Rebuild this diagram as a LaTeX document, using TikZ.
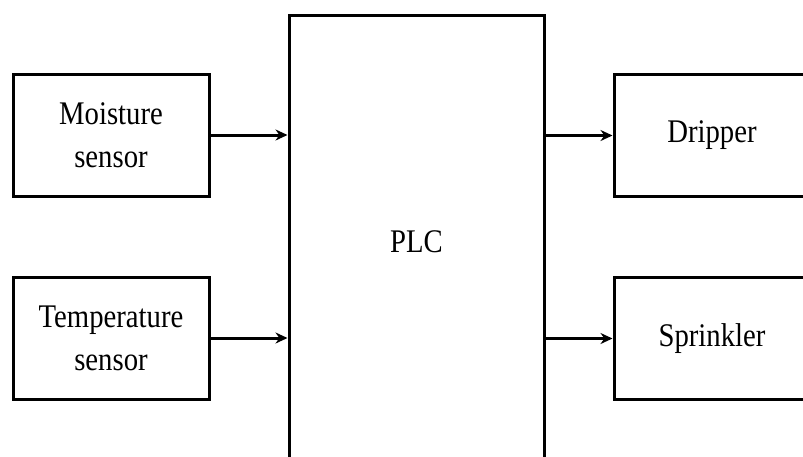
\documentclass[tikz,border=0pt]{standalone}
\usepackage{fontspec}
\setmainfont{Liberation Serif}[FakeStretch=0.87]
\usetikzlibrary{positioning, arrows.meta}

\begin{document}
\begin{tikzpicture}[x=1pt, y=-1pt, node distance=78pt,
    every node/.style={font=\fontsize{33}{43}\selectfont},
    block/.style={draw, line width=3pt, minimum width=196pt, minimum height=122pt, align=center},
    link/.style={-{Stealth[length=12pt, width=11pt]}, line width=3pt}]
    \useasboundingbox (0,0) rectangle (803,456);
    \node[block, minimum width=255pt, minimum height=454pt] (plc) at (416.5,242) {PLC};
    \node[block] (moist) at (111,135) {Moisture\\sensor};
    \node[block, below=of moist] (temp) {Temperature\\sensor};
    \node[block] (drip) at (712,135.5) {Dripper};
    \node[block, below=of drip] (sprink) {Sprinkler};
    \draw[link] (moist) -- (moist -| plc.west);
    \draw[link] (temp) -- (temp -| plc.west);
    \draw[link] (plc.east |- drip) -- (drip);
    \draw[link] (plc.east |- sprink) -- (sprink);
\end{tikzpicture}
\end{document}
